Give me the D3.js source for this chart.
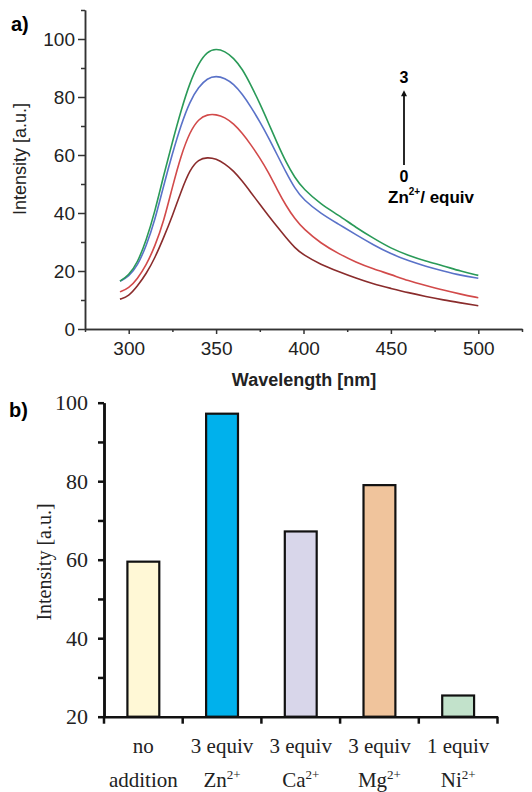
<!DOCTYPE html>
<html>
<head>
<meta charset="utf-8">
<script src="https://cdn.jsdelivr.net/npm/d3@7"></script>
<style>
  body { margin: 0; background: #fff; }
  .sans { font-family: "Liberation Sans", Arial, sans-serif; }
  .serif { font-family: "Liberation Serif", "Times New Roman", serif; }
</style>
</head>
<body>
<svg id="chart" width="532" height="792"></svg>
<script>
// données du spectre (a)
const wavelengths = [295,300,305,310,315,320,325,330,335,340,345,350,355,360,365,370,375,380,385,390,395,400,410,420,430,440,450,460,470,480,490,500];
const zn0 = [10.3,11.3,14.8,19,24.5,31.5,39,47.5,55,58.5,59.2,58.7,57,54.5,51,47,43,39,35.2,31.5,28,25.5,22.2,19.8,17.5,15.5,14,12.5,11.2,10,9,8];
const zn1 = [12.8,14,17.3,22,28.5,37,49,60,68,72.5,74,74,73,70.8,67.5,63.5,59,54,48,42.5,38,34.5,29.5,26,23,20.7,18.8,16.6,15,13.4,12,10.8];
const zn2 = [16.5,18,21.8,28.5,37.5,49.5,60.5,70.5,78.5,83.5,86.5,87.3,86.5,84.5,81,76.5,71.5,66,60,54,48.5,44.5,39.8,36.2,32.5,29,25.9,23.5,21.6,20,18.5,17.5];
const zn3 = [16.5,18.5,22.8,30.5,40.5,53,64.5,75.5,85,91.7,95.7,96.7,95.8,93.5,89.7,84,77.8,71,64,57.5,52.2,48.2,43,39.3,35,31.3,27.8,25.4,23.4,21.8,19.9,18.5];
const spectra = [zn0, zn1, zn2, zn3];
const spectraColors = ["#8a2c2c", "#d24a4a", "#5a72c8", "#2a9a58"];
const xTicksTop = [300, 350, 400, 450, 500];
const xMinorTop = [275, 325, 375, 425, 475, 525];
const yTicksTop = [0, 20, 40, 60, 80, 100];
const yMinorTop = [10, 30, 50, 70, 90, 110];

// données des barres (b)
const categories = ["none", "Zn", "Ca", "Mg", "Ni"];
const labelLine1 = ["no", "3 equiv", "3 equiv", "3 equiv", "1 equiv"];
const labelLine2 = ["addition", "Zn", "Ca", "Mg", "Ni"];
const labelSup = ["", "2+", "2+", "2+", "2+"];
const intensities = [59.5, 97.2, 67.2, 79, 25.4];
const barColors = ["#fff8d6", "#00b1ec", "#d8d6ea", "#f0c49c", "#c2e2cb"];
const yTicksBottom = [20, 40, 60, 80, 100];
const yMinorBottom = [30, 50, 70, 90];

const svg = d3.select("#chart");

// ---------- graphique a) ----------
const x1 = d3.scaleLinear().domain([275, 525]).range([85, 522]);
const y1 = d3.scaleLinear().domain([0, 110]).range([329, 10]);

const line = d3.line()
  .x((d, i) => x1(wavelengths[i]))
  .y(d => y1(d))
  .curve(d3.curveBasis);

svg.append("g")
  .selectAll("path")
  .data(spectra)
  .enter()
  .append("path")
  .attr("d", d => line(d))
  .attr("fill", "none")
  .attr("stroke", (d, i) => spectraColors[i])
  .attr("stroke-width", 1.6);

svg.append("g")
  .attr("class", "sans")
  .attr("transform", "translate(0,329)")
  .call(d3.axisBottom(x1).tickValues(xTicksTop).tickSize(5).tickSizeOuter(0).tickPadding(8));
svg.append("g")
  .attr("transform", "translate(0,329)")
  .call(d3.axisBottom(x1).tickValues(xMinorTop).tickSize(3).tickSizeOuter(0).tickFormat(""));

svg.append("g")
  .attr("class", "sans")
  .attr("transform", "translate(85,0)")
  .call(d3.axisLeft(y1).tickValues(yTicksTop).tickSize(7).tickSizeOuter(0).tickPadding(3));
svg.append("g")
  .attr("transform", "translate(85,0)")
  .call(d3.axisLeft(y1).tickValues(yMinorTop).tickSize(4).tickSizeOuter(0).tickFormat(""));

svg.selectAll("g").selectAll("text")
  .attr("font-size", 19)
  .attr("font-family", "Liberation Sans, Arial, sans-serif")
  .attr("fill", "#222");
svg.selectAll(".domain, .tick line").attr("stroke", "#333").attr("stroke-width", 1.5);

svg.append("text")
  .attr("class", "sans")
  .attr("transform", "translate(20,159) rotate(-90)")
  .attr("text-anchor", "middle")
  .attr("dominant-baseline", "central")
  .attr("font-size", 18)
  .attr("fill", "#222")
  .text("Intensity [a.u.]");

svg.append("text")
  .attr("class", "sans")
  .attr("x", 304).attr("y", 386)
  .attr("text-anchor", "middle")
  .attr("font-size", 18).attr("font-weight", "bold")
  .attr("fill", "#222")
  .text("Wavelength [nm]");

svg.append("text")
  .attr("class", "sans")
  .attr("x", 11).attr("y", 31)
  .attr("font-size", 20).attr("font-weight", "bold")
  .text("a)");

// flèche Zn2+
svg.append("defs").append("marker")
  .attr("id", "arrow")
  .attr("viewBox", "0 0 10 10")
  .attr("refX", 2).attr("refY", 5)
  .attr("markerUnits", "userSpaceOnUse")
  .attr("markerWidth", 8).attr("markerHeight", 6)
  .attr("orient", "auto")
  .append("path")
  .attr("d", "M0,0 L10,5 L0,10 Z")
  .attr("fill", "#111");
svg.append("line")
  .attr("x1", 404).attr("y1", 165)
  .attr("x2", 404).attr("y2", 95)
  .attr("stroke", "#111").attr("stroke-width", 1.8)
  .attr("marker-end", "url(#arrow)");
svg.append("text").attr("class", "sans")
  .attr("x", 404).attr("y", 83).attr("text-anchor", "middle")
  .attr("font-size", 16).attr("font-weight", "bold").text("3");
svg.append("text").attr("class", "sans")
  .attr("x", 404).attr("y", 182).attr("text-anchor", "middle")
  .attr("font-size", 16).attr("font-weight", "bold").text("0");
const znLabel = svg.append("text").attr("class", "sans")
  .attr("x", 388).attr("y", 203)
  .attr("font-size", 17).attr("font-weight", "bold");
znLabel.append("tspan").text("Zn");
znLabel.append("tspan").attr("font-size", 10).attr("dy", -8).text("2+");
znLabel.append("tspan").attr("dy", 8).text("/ equiv");

// ---------- graphique b) ----------
const x2 = d3.scaleBand().domain(categories).range([104, 497.5]).padding(0);
const y2 = d3.scaleLinear().domain([20, 100]).range([716.7, 402.7]);
const barW = x2.bandwidth() * 0.405;

svg.append("g")
  .selectAll("rect")
  .data(intensities)
  .enter()
  .append("rect")
  .attr("x", (d, i) => x2(categories[i]) + (x2.bandwidth() - barW) / 2)
  .attr("y", d => y2(d))
  .attr("width", barW)
  .attr("height", d => y2(20) - y2(d))
  .attr("fill", (d, i) => barColors[i])
  .attr("stroke", "#111")
  .attr("stroke-width", 2.2);

const axB = svg.append("g").attr("class", "axisB");
axB.append("g")
  .attr("transform", "translate(104,0)")
  .call(d3.axisLeft(y2).tickValues(yTicksBottom).tickSize(6).tickSizeOuter(0).tickPadding(10));
axB.append("g")
  .attr("transform", "translate(104,0)")
  .call(d3.axisLeft(y2).tickValues(yMinorBottom).tickSize(6).tickSizeOuter(0).tickFormat(""));
axB.append("g")
  .attr("transform", "translate(0,716.7)")
  .call(d3.axisBottom(x2).tickSize(0).tickSizeOuter(0).tickFormat(""));

const bounds = [x2(categories[0])].concat(categories.map(c => x2(c) + x2.bandwidth()));
axB.append("g")
  .selectAll("line")
  .data(bounds)
  .enter()
  .append("line")
  .attr("x1", d => d).attr("x2", d => d)
  .attr("y1", 716.7).attr("y2", 723.7);

axB.selectAll(".domain, line").attr("stroke", "#111").attr("stroke-width", 2.5);
axB.selectAll("text")
  .attr("font-size", 22)
  .attr("font-family", "Liberation Serif, Times New Roman, serif")
  .attr("fill", "#222");

const labels = svg.append("g")
  .attr("class", "serif")
  .attr("font-size", 21)
  .attr("fill", "#222")
  .attr("text-anchor", "middle");
labels.selectAll(".l1")
  .data(labelLine1)
  .enter()
  .append("text")
  .attr("x", (d, i) => x2(categories[i]) + x2.bandwidth() / 2)
  .attr("y", 753)
  .text(d => d);
const l2 = labels.selectAll(".l2")
  .data(labelLine2)
  .enter()
  .append("text")
  .attr("x", (d, i) => x2(categories[i]) + x2.bandwidth() / 2)
  .attr("y", 787);
l2.append("tspan").text(d => d);
l2.append("tspan")
  .attr("font-size", 13)
  .attr("dy", -8)
  .text((d, i) => labelSup[i]);

svg.append("text")
  .attr("class", "serif")
  .attr("transform", "translate(44,562) rotate(-90)")
  .attr("text-anchor", "middle")
  .attr("dominant-baseline", "central")
  .attr("font-size", 20)
  .attr("fill", "#222")
  .text("Intensity [a.u.]");

svg.append("text")
  .attr("class", "sans")
  .attr("x", 9).attr("y", 417)
  .attr("font-size", 20).attr("font-weight", "bold")
  .text("b)");
</script>
</body>
</html>
